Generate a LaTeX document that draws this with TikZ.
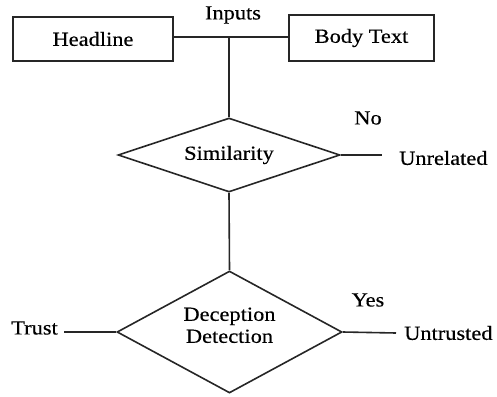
\documentclass[tikz,border=0pt]{standalone}
\usepackage{fontspec}
\setmainfont[FakeStretch=1.12,FakeBold=0.4]{Liberation Serif}
\usetikzlibrary{shapes.geometric}
\begin{document}
\begin{tikzpicture}[x=1pt,y=-1pt,
  every node/.style={font=\fontsize{20}{24}\selectfont, text=black},
  box/.style={draw=black!85, line width=1.6pt, rectangle, inner sep=0pt},
  decision/.style={draw=black!85, line width=1.6pt, diamond, inner sep=0pt, aspect=3},
  lab/.style={inner sep=0pt},
  conn/.style={draw=black!85, line width=1.6pt}]
\useasboundingbox (0,0) rectangle (497,396);
\node[box, minimum width=160pt, minimum height=44pt] (head) at (93,39) {Headline};
\node[box, minimum width=145pt, minimum height=46pt] (body) at (361.5,38) {Body Text};
\node[lab] (inputs) at (233,15) {Inputs};
\coordinate (join) at (229,37);
\node[decision, minimum width=222pt, minimum height=74pt] (sim) at (229,155) {Similarity};
\node[decision, minimum width=225pt, minimum height=122pt, aspect=1.8] (dec) at (229.5,332)
  {\raisebox{5pt}[\height][\depth]{\begin{tabular}{@{}c@{}}Deception\\[-2pt]Detection\end{tabular}}};
\node[lab] (no) at (368,118) {No};
\node[lab, anchor=west] (unrel) at (399,158) {Unrelated};
\node[lab] (yes) at (368,300) {Yes};
\node[lab, anchor=east] (trust) at (58,328) {Trust};
\node[lab, anchor=west] (untr) at (404,333) {Untrusted};
\coordinate (unrelEnd) at (382,155);
\coordinate (untrEnd) at (396,333);
\coordinate (trustEnd) at (64,332);
\draw[conn] (head.east |- join) -- (body.west |- join);
\draw[conn] (join) -- (sim.north);
\draw[conn] (sim.south) -- (dec.north);
\draw[conn] (sim.east) -- (unrelEnd);
\draw[conn] (dec.east) -- (untrEnd);
\draw[conn] (trustEnd) -- (dec.west);
\end{tikzpicture}
\end{document}
